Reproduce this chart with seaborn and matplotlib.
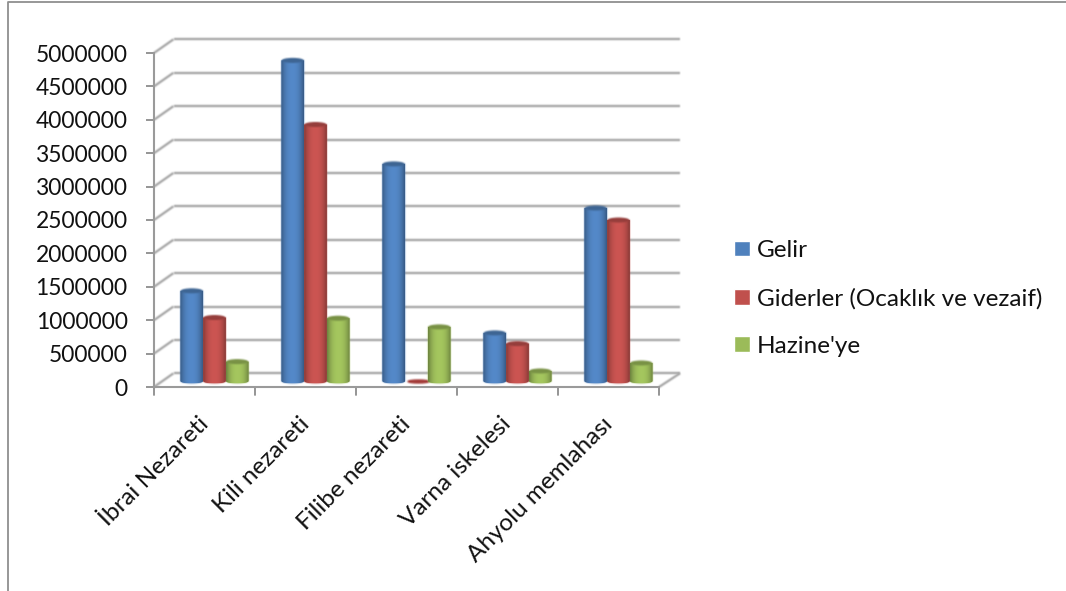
import numpy as np
import pandas as pd
import seaborn as sns
import matplotlib
matplotlib.use("Agg")
import matplotlib.pyplot as plt
from matplotlib.lines import Line2D
from matplotlib.patches import Ellipse, PathPatch
from matplotlib.path import Path
from matplotlib.colors import to_rgb
from matplotlib.transforms import ScaledTranslation

categories = ["İbrai Nezareti", "Kili nezareti", "Filibe nezareti", "Varna iskelesi", "Ahyolu memlahası"]
gelir = [1350000, 4800000, 3250000, 720000, 2590000]
giderler = [950000, 3840000, 0, 560000, 2410000]
hazine = [290000, 940000, 810000, 150000, 270000]
series_names = ["Gelir", "Giderler (Ocaklık ve vezaif)", "Hazine'ye"]
colors = ["#4f81bd", "#c0504d", "#9bbb59"]
yticks = list(range(0, 5000001, 500000))

W, H = 1066, 591
L, R, B, T = 154, 659, 387, 53
PX_X = 5 / (R - L)
PX_Y = 5000000 / (B - T)


def blur(img, dpi, r=1):
    k = np.array([1, 2, 1], float) / 4
    pad = 3
    out = np.pad(img, ((pad, pad), (pad, pad), (0, 0)))
    rgb = out[..., :3] * out[..., 3:]
    a = out[..., 3:]
    stack = np.concatenate([rgb, a], axis=2)
    for axis in (0, 1):
        stack = (np.roll(stack, 1, axis) * k[0] + stack * k[1] + np.roll(stack, -1, axis) * k[2])
    al = stack[..., 3:]
    res = np.concatenate([np.where(al > 0, stack[..., :3] / np.maximum(al, 1e-6), 0), al], axis=2)
    return res, -pad, -pad


sns.set_theme(style="white")
plt.rcParams["font.family"] = ["Lato", "DejaVu Sans"]

df = pd.DataFrame({
    "cat": categories * 3,
    "series": sum([[n] * len(categories) for n in series_names], []),
    "val": gelir + giderler + hazine,
})

fig = plt.figure(figsize=(W / 100, H / 100), dpi=100)
ax = fig.add_axes([L / W, 1 - B / H, (R - L) / W, (B - T) / H])
sns.barplot(data=df, x="cat", y="val", hue="series", hue_order=series_names, order=categories,
            palette=colors, width=0.675, gap=0, saturation=1, errorbar=None, ax=ax, zorder=3)
handles, labels = ax.get_legend_handles_labels()
ax.set_xlim(-0.5, 4.5)
ax.set_ylim(0, 5000000)
ax.set_yticks(yticks)
ax.ticklabel_format(style="plain", axis="y")
ax.set_xlabel("")
ax.set_ylabel("")

grid_c = "#a3a3a3"
dx, dy = 19.5 * PX_X, 13.7 * PX_Y
kw = dict(color=grid_c, lw=1.6, clip_on=False, zorder=1, solid_capstyle="butt", agg_filter=blur)
for v in yticks:
    ax.add_line(Line2D([-0.5 + dx, 4.5 + dx + 0.015], [v + dy, v + dy], **kw))
    ax.add_line(Line2D([-0.5, -0.5 + dx], [v, v + dy], **kw))
ax.add_line(Line2D([4.5, 4.5 + dx + 0.015], [0, dy], **kw))

# Cylinder bars: each is derived from a bar that seaborn drew
shift_x, shift_y = 10 * PX_X, 6 * PX_Y
ell_h = 5 * PX_Y
for patch, col in zip(list(ax.patches), colors[0:1] * 5 + colors[1:2] * 5 + colors[2:3] * 5):
    x0 = patch.get_x() + shift_x
    w = patch.get_width()
    h = patch.get_height()
    patch.set_visible(False)
    if h <= 0:
        ax.add_patch(Ellipse((x0 + w / 2 + 2 * PX_X, shift_y - 0.5 * PX_Y), w * 0.92, ell_h * 0.6,
                             color="#a33a37", clip_on=False, zorder=4, agg_filter=blur))
        continue
    y0, y1 = shift_y, shift_y + h
    t = np.linspace(np.pi, 2 * np.pi, 30)
    xs = x0 + w / 2 + w / 2 * np.cos(t)
    ys = y0 + ell_h / 2 * np.sin(t)
    verts = [(x0, y1)] + list(zip(xs, ys)) + [(x0 + w, y1), (x0, y1)]
    body = PathPatch(Path(verts), facecolor=col, edgecolor="none", clip_on=False, zorder=4, agg_filter=blur)
    ax.add_patch(body)
    base = np.array(to_rgb(col))
    u = np.linspace(-1, 1, 60)
    shade = 1 - np.abs(u) ** 2.4
    dark = base * 0.70
    light = np.minimum(base * 1.06, 1)
    grad = dark[None, :] + (light - dark)[None, :] * shade[:, None]
    im = ax.imshow(grad[None, :, :], extent=(x0, x0 + w, y0 - ell_h / 2, y1), aspect="auto",
                   zorder=4.1, interpolation="bilinear", clip_on=True)
    im.set_clip_path(body)
    ax.add_patch(Ellipse((x0 + w / 2, y1), w * 0.96, ell_h, facecolor=tuple(base * 0.78), edgecolor="none",
                         clip_on=False, zorder=4.2, agg_filter=blur))
ax.set_xlim(-0.5, 4.5)
ax.set_ylim(0, 5000000)
ax.set_aspect("auto")

sns.despine(ax=ax, top=True, right=True)
for s in ("left", "bottom"):
    ax.spines[s].set_color("#9a9a9a")
    ax.spines[s].set_linewidth(1.5)
    ax.spines[s].set_zorder(2)

ax.set_xticks(np.arange(len(categories)))
ax.set_xticklabels(categories, rotation=45, ha="right", rotation_mode="anchor", fontsize=17.5, color="#111111")
ax.tick_params(axis="x", length=0, pad=19)
ax.tick_params(axis="y", length=6, width=1.3, color="#8c8c8c", pad=13, left=True, labelsize=16.4, labelcolor="#111111")
label_shift = ScaledTranslation(-7 / 100, 0, fig.dpi_scale_trans)
for lab in ax.get_xticklabels():
    lab.set_transform(lab.get_transform() + label_shift)
for xb in np.arange(-0.5, 5):
    ax.add_line(Line2D([xb, xb], [0, -8 * PX_Y], color="#8c8c8c", lw=1.3, clip_on=False, zorder=2))

leg = ax.legend(handles, labels, loc="center left", bbox_to_anchor=(734.5 / W, 1 - 298.5 / H),
                bbox_transform=fig.transFigure, frameon=False, fontsize=17.5, handlelength=0.63,
                handleheight=0.63, handletextpad=0.3, labelspacing=1.1, borderpad=0, borderaxespad=0)
for t in leg.get_texts():
    t.set_color("#111111")

fig.add_artist(Line2D([8 / W, 8 / W, 1], [0, 1 - 2 / H, 1 - 2 / H], color="#8f8f8f", lw=1.3))

fig.savefig("out.png", dpi=100)
